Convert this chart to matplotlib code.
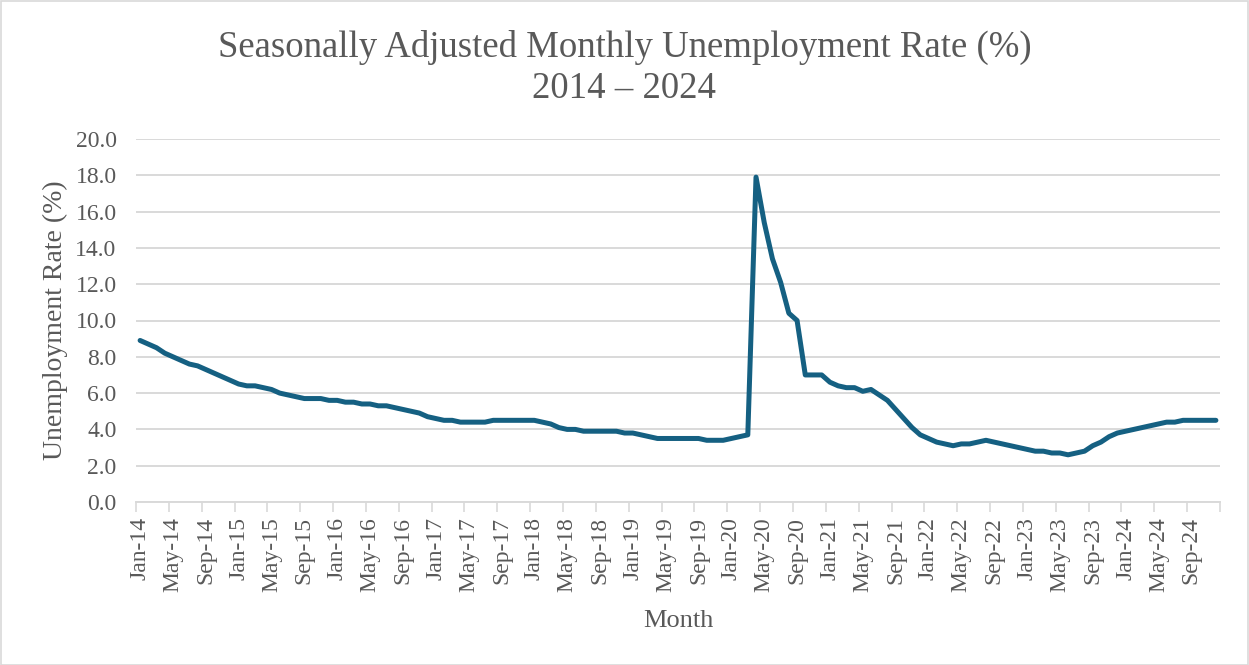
import numpy as np
import pandas as pd
import matplotlib
matplotlib.use("Agg")
import matplotlib.pyplot as plt
from matplotlib.patches import Rectangle

# ============================================================
# DATA  (monthly, Jan-2014 .. Dec-2024)
# ============================================================

months = pd.date_range("2014-01-01", "2024-12-01", freq="MS")
month_labels = [m.strftime("%b-%y") for m in months]

rate_2014 = [8.9, 8.7, 8.5, 8.2, 8.0, 7.8, 7.6, 7.5, 7.3, 7.1, 6.9, 6.7]
rate_2015 = [6.5, 6.4, 6.4, 6.3, 6.2, 6.0, 5.9, 5.8, 5.7, 5.7, 5.7, 5.6]
rate_2016 = [5.6, 5.5, 5.5, 5.4, 5.4, 5.3, 5.3, 5.2, 5.1, 5.0, 4.9, 4.7]
rate_2017 = [4.6, 4.5, 4.5, 4.4, 4.4, 4.4, 4.4, 4.5, 4.5, 4.5, 4.5, 4.5]
rate_2018 = [4.5, 4.4, 4.3, 4.1, 4.0, 4.0, 3.9, 3.9, 3.9, 3.9, 3.9, 3.8]
rate_2019 = [3.8, 3.7, 3.6, 3.5, 3.5, 3.5, 3.5, 3.5, 3.5, 3.4, 3.4, 3.4]
rate_2020 = [3.5, 3.6, 3.7, 17.9, 15.4, 13.4, 12.1, 10.4, 10.0, 7.0, 7.0, 7.0]
rate_2021 = [6.6, 6.4, 6.3, 6.3, 6.1, 6.2, 5.9, 5.6, 5.1, 4.6, 4.1, 3.7]
rate_2022 = [3.5, 3.3, 3.2, 3.1, 3.2, 3.2, 3.3, 3.4, 3.3, 3.2, 3.1, 3.0]
rate_2023 = [2.9, 2.8, 2.8, 2.7, 2.7, 2.6, 2.7, 2.8, 3.1, 3.3, 3.6, 3.8]
rate_2024 = [3.9, 4.0, 4.1, 4.2, 4.3, 4.4, 4.4, 4.5, 4.5, 4.5, 4.5, 4.5]

rate = (rate_2014 + rate_2015 + rate_2016 + rate_2017 + rate_2018 + rate_2019
        + rate_2020 + rate_2021 + rate_2022 + rate_2023 + rate_2024)

# ============================================================
# PLOT
# ============================================================

plt.rcParams["font.family"] = ["Liberation Serif", "DejaVu Serif"]
text_grey = "#595959"
grid_grey = "#d9d9d9"
line_blue = "#156082"

fig = plt.figure(figsize=(12.49, 6.65), dpi=100)
ax = fig.add_axes([136 / 1249, 1 - 502 / 665, (1220 - 136) / 1249, (502 - 139) / 665])

x = np.arange(len(rate))
ax.plot(x, rate, color=line_blue, linewidth=3.6, solid_capstyle="round",
        solid_joinstyle="round", zorder=3)

ax.set_xlim(-0.5, len(rate) - 0.5)
ax.set_ylim(0, 20)
ax.set_yticks(np.arange(0, 21, 2))
ax.set_yticklabels([f"{v:.1f}" for v in np.arange(0, 21, 2)])

ax.set_xticks(x[::4])
ax.set_xticklabels(month_labels[::4], rotation=90)
ax.set_xticks(np.arange(-0.5, len(rate), 4), minor=True)

ax.tick_params(axis="y", length=0, pad=14, labelsize=17, labelcolor=text_grey)
ax.tick_params(axis="x", which="major", length=0, pad=11, labelsize=17,
               labelcolor=text_grey)
ax.tick_params(axis="x", which="minor", length=7, width=1.2, color=grid_grey)

ax.grid(axis="y", color=grid_grey, linewidth=1.4)
ax.set_axisbelow(True)
for side in ["left", "right", "top"]:
    ax.spines[side].set_visible(False)
ax.spines["bottom"].set_color(grid_grey)
ax.spines["bottom"].set_linewidth(1.4)

ax.set_xlabel("Month", fontsize=19, color=text_grey, labelpad=13)
ax.set_ylabel("Unemployment Rate (%)", fontsize=20, color=text_grey, labelpad=5)

fig.text(0.5, 1 - 47 / 665, "Seasonally Adjusted Monthly Unemployment Rate (%)",
         ha="center", va="center", fontsize=26.5, color=text_grey)
fig.text(0.5, 1 - 89 / 665, "2014 – 2024",
         ha="center", va="center", fontsize=26.5, color=text_grey)

# chart border
fig.patches.append(Rectangle((0.5 / 1249, 0.5 / 665), 1 - 1.5 / 1249, 1 - 1.5 / 665,
                             transform=fig.transFigure, fill=False,
                             edgecolor=grid_grey, linewidth=1.2))

fig.savefig("out.png", dpi=100)
